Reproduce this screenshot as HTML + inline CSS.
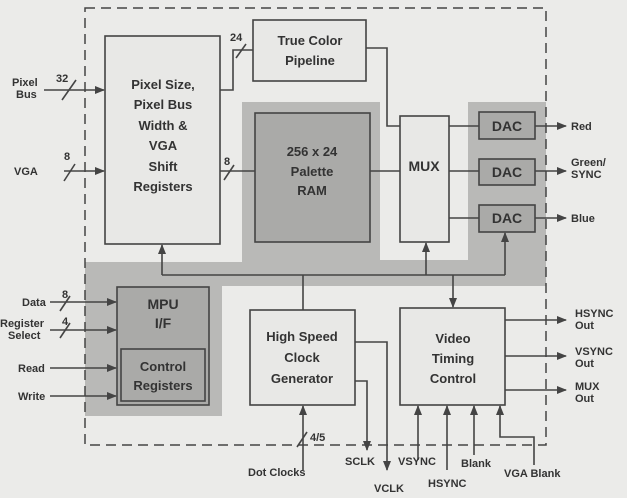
<!DOCTYPE html>
<html><head><style>
html,body{margin:0;padding:0;background:#ebebe9;}
svg{display:block;font-family:"Liberation Sans",Arial,sans-serif;font-weight:bold;}
text{fill:#333;}
</style></head><body>
<svg width="627" height="498" viewBox="0 0 627 498">
<defs>
<marker id="a" markerWidth="10" markerHeight="8" refX="9" refY="4" orient="auto" markerUnits="userSpaceOnUse"><path d="M0,0 L10,4 L0,8z" fill="#444"/></marker>
</defs>
<rect width="627" height="498" fill="#ebebe9"/>
<g fill="#b9b9b7">
<rect x="85" y="262" width="461" height="24"/>
<rect x="85" y="262" width="137" height="154"/>
<rect x="242" y="102" width="304" height="184"/>
</g>
<rect x="380" y="100" width="88" height="160" fill="#ebebe9"/>
<rect x="222" y="286" width="18" height="130" fill="#ebebe9"/>
<rect x="85" y="8" width="461" height="437" fill="none" stroke="#444" stroke-width="1.5" stroke-dasharray="10,6"/>
<g stroke="#444" stroke-width="1.6" fill="#e8e8e6">
<rect x="105" y="36" width="115" height="208"/>
<rect x="253" y="20" width="113" height="61"/>
<rect x="255" y="113" width="115" height="129" fill="#aaaaa8"/>
<rect x="400" y="116" width="49" height="126"/>
<rect x="479" y="112" width="56" height="27" fill="#aaaaa8"/>
<rect x="479" y="159" width="56" height="26" fill="#aaaaa8"/>
<rect x="479" y="205" width="56" height="27" fill="#aaaaa8"/>
<rect x="117" y="287" width="92" height="118" fill="#aaaaa8"/>
<rect x="121" y="349" width="84" height="52" fill="#aaaaa8"/>
<rect x="250" y="310" width="105" height="95"/>
<rect x="400" y="308" width="105" height="97"/>
</g>
<g stroke="#444" stroke-width="1.6" fill="none">
<line x1="44" y1="90" x2="104" y2="90" marker-end="url(#a)"/>
<line x1="64" y1="171" x2="104" y2="171" marker-end="url(#a)"/>
<line x1="62" y1="100" x2="76" y2="80"/>
<line x1="64" y1="181" x2="75" y2="164"/>
<polyline points="220,90 233,90 233,50 253,50"/>
<line x1="236" y1="58" x2="246" y2="44"/>
<line x1="220" y1="171" x2="255" y2="171"/>
<line x1="224" y1="180" x2="234" y2="165"/>
<line x1="370" y1="171" x2="400" y2="171"/>
<polyline points="366,48 387,48 387,126 400,126"/>
<line x1="449" y1="126" x2="479" y2="126"/>
<line x1="449" y1="171" x2="479" y2="171"/>
<line x1="449" y1="218" x2="479" y2="218"/>
<line x1="535" y1="126" x2="566" y2="126" marker-end="url(#a)"/>
<line x1="535" y1="171" x2="566" y2="171" marker-end="url(#a)"/>
<line x1="535" y1="218" x2="566" y2="218" marker-end="url(#a)"/>
<line x1="162" y1="275" x2="505" y2="275"/>
<line x1="162" y1="275" x2="162" y2="245" marker-end="url(#a)"/>
<line x1="426" y1="275" x2="426" y2="243" marker-end="url(#a)"/>
<line x1="505" y1="275" x2="505" y2="233" marker-end="url(#a)"/>
<line x1="453" y1="275" x2="453" y2="307" marker-end="url(#a)"/>
<line x1="303" y1="275" x2="303" y2="310"/>
<line x1="50" y1="302" x2="116" y2="302" marker-end="url(#a)"/>
<line x1="50" y1="330" x2="116" y2="330" marker-end="url(#a)"/>
<line x1="50" y1="368" x2="116" y2="368" marker-end="url(#a)"/>
<line x1="50" y1="396" x2="116" y2="396" marker-end="url(#a)"/>
<line x1="60" y1="311" x2="70" y2="296"/>
<line x1="60" y1="338" x2="70" y2="323"/>
<line x1="303" y1="470" x2="303" y2="406" marker-end="url(#a)"/>
<line x1="297" y1="447" x2="307" y2="432"/>
<polyline points="355,381 367,381 367,450" marker-end="url(#a)"/>
<polyline points="355,342 387,342 387,470" marker-end="url(#a)"/>
<line x1="505" y1="320" x2="566" y2="320" marker-end="url(#a)"/>
<line x1="505" y1="356" x2="566" y2="356" marker-end="url(#a)"/>
<line x1="505" y1="390" x2="566" y2="390" marker-end="url(#a)"/>
<line x1="418" y1="460" x2="418" y2="406" marker-end="url(#a)"/>
<line x1="447" y1="470" x2="447" y2="406" marker-end="url(#a)"/>
<line x1="474" y1="455" x2="474" y2="406" marker-end="url(#a)"/>
<polyline points="534,465 534,437 500,437 500,406" marker-end="url(#a)"/>
</g>
<g font-size="13" text-anchor="middle">
<text x="163" y="89">Pixel Size,</text>
<text x="163" y="109">Pixel Bus</text>
<text x="163" y="130">Width &amp;</text>
<text x="163" y="150">VGA</text>
<text x="163" y="171">Shift</text>
<text x="163" y="191">Registers</text>
<text x="310" y="45">True Color</text>
<text x="310" y="65">Pipeline</text>
<text x="312" y="156">256 x 24</text>
<text x="312" y="176">Palette</text>
<text x="312" y="195">RAM</text>
<text x="424" y="171" font-size="14">MUX</text>
<text x="507" y="131" font-size="14">DAC</text>
<text x="507" y="177" font-size="14">DAC</text>
<text x="507" y="223" font-size="14">DAC</text>
<text x="163" y="309" font-size="14">MPU</text>
<text x="163" y="328" font-size="14">I/F</text>
<text x="163" y="371">Control</text>
<text x="163" y="390">Registers</text>
<text x="302" y="341">High Speed</text>
<text x="302" y="362">Clock</text>
<text x="302" y="383">Generator</text>
<text x="453" y="343">Video</text>
<text x="453" y="363">Timing</text>
<text x="453" y="383">Control</text>
</g>
<g font-size="11">
<text x="12" y="86">Pixel</text><text x="16" y="98">Bus</text>
<text x="56" y="82">32</text>
<text x="14" y="175">VGA</text>
<text x="64" y="160">8</text>
<text x="230" y="41">24</text>
<text x="224" y="165">8</text>
<text x="571" y="130">Red</text>
<text x="571" y="166">Green/</text><text x="571" y="178">SYNC</text>
<text x="571" y="222">Blue</text>
<text x="575" y="317">HSYNC</text><text x="575" y="329">Out</text>
<text x="575" y="355">VSYNC</text><text x="575" y="367">Out</text>
<text x="575" y="390">MUX</text><text x="575" y="402">Out</text>
<text x="22" y="306">Data</text>
<text x="62" y="298">8</text>
<text x="0" y="327">Register</text><text x="8" y="339">Select</text>
<text x="62" y="325">4</text>
<text x="18" y="372">Read</text>
<text x="18" y="400">Write</text>
<text x="310" y="441">4/5</text>
<text x="248" y="476">Dot Clocks</text>
<text x="345" y="465">SCLK</text>
<text x="374" y="492">VCLK</text>
<text x="398" y="465">VSYNC</text>
<text x="428" y="487">HSYNC</text>
<text x="461" y="467">Blank</text>
<text x="504" y="477">VGA Blank</text>
</g>
</svg>
</body></html>
